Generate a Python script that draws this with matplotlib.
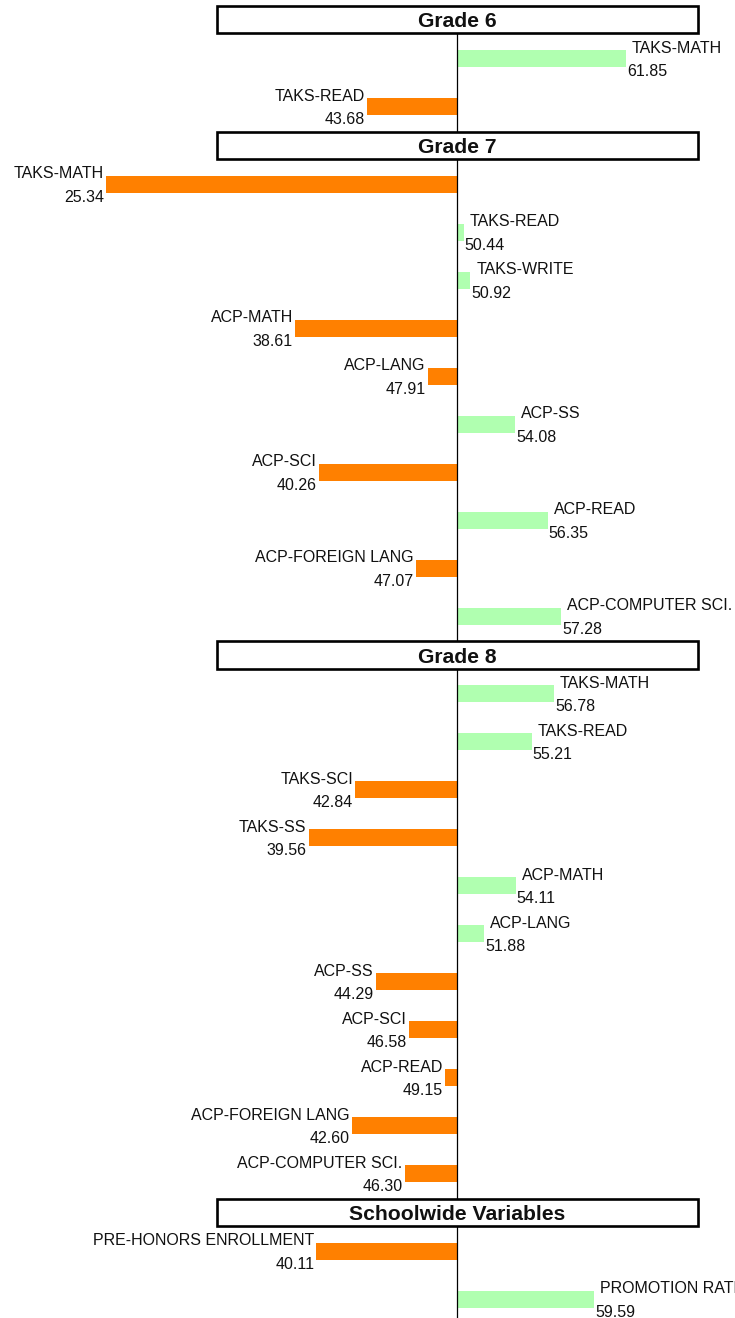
import matplotlib
matplotlib.use("Agg")
import matplotlib.pyplot as plt
from matplotlib.patches import Rectangle
from matplotlib.transforms import offset_copy

plt.rcParams['font.family'] = ['Liberation Sans', 'DejaVu Sans']

# ---- data ----
group_titles = ["Grade 6", "Grade 7", "Grade 8", "Schoolwide Variables"]
grade6_labels = ["TAKS-MATH", "TAKS-READ"]
grade6_values = [61.85, 43.68]
grade7_labels = ["TAKS-MATH", "TAKS-READ", "TAKS-WRITE", "ACP-MATH", "ACP-LANG",
                 "ACP-SS", "ACP-SCI", "ACP-READ", "ACP-FOREIGN LANG", "ACP-COMPUTER SCI."]
grade7_values = [25.34, 50.44, 50.92, 38.61, 47.91, 54.08, 40.26, 56.35, 47.07, 57.28]
grade8_labels = ["TAKS-MATH", "TAKS-READ", "TAKS-SCI", "TAKS-SS", "ACP-MATH", "ACP-LANG",
                 "ACP-SS", "ACP-SCI", "ACP-READ", "ACP-FOREIGN LANG", "ACP-COMPUTER SCI."]
grade8_values = [56.78, 55.21, 42.84, 39.56, 54.11, 51.88, 44.29, 46.58, 49.15, 42.60, 46.30]
school_labels = ["PRE-HONORS ENROLLMENT", "PROMOTION RATE"]
school_values = [40.11, 59.59]
baseline_value = 50.0

groups = [
    (group_titles[0], grade6_labels, grade6_values),
    (group_titles[1], grade7_labels, grade7_values),
    (group_titles[2], grade8_labels, grade8_values),
    (group_titles[3], school_labels, school_values),
]

# ---- style / layout ----
W, H, DPI = 735, 1318, 100
ORANGE = "#FF8000"
GREEN = "#B0FFB0"
PX_PER_UNIT = 14.246
CENTER_PX = 457.3
ROW_STEP = 48.0
HEAD_GAP = 38.8
FIRST_HEAD = 19.8
BAR_H = 16.7
BOX_HALF_W = 240.2   # px
BOX_HALF_H = 13.6    # px
LABEL_FS = 11.5
HEAD_FS = 15.2

fig = plt.figure(figsize=(W / DPI, H / DPI), dpi=DPI)
ax = fig.add_axes([0, 0, 1, 1])
ax.set_xlim(baseline_value - CENTER_PX / PX_PER_UNIT,
            baseline_value + (W - CENTER_PX) / PX_PER_UNIT)
ax.set_ylim(H, 0)
ax.axis("off")

def tr(dx):
    return offset_copy(ax.transData, fig=fig, x=dx, y=0, units='dots')

y = FIRST_HEAD
head_ys = []
for gi, (title, labels, values) in enumerate(groups):
    head_ys.append(y)
    y += HEAD_GAP
    for i, (lab, v) in enumerate(zip(labels, values)):
        color = GREEN if v >= baseline_value else ORANGE
        ax.barh(y, v - baseline_value, left=baseline_value, height=BAR_H,
                color=color, linewidth=0, zorder=2)
        if v >= baseline_value:
            ax.text(v, y - 6.0, lab, transform=tr(6), ha='left', va='baseline',
                    fontsize=LABEL_FS, color='#111111', zorder=4)
            ax.text(v, y + 17.5, f"{v:.2f}", transform=tr(1), ha='left', va='baseline',
                    fontsize=LABEL_FS, color='#111111', zorder=4)
        else:
            ax.text(v, y - 6.0, lab, transform=tr(-2), ha='right', va='baseline',
                    fontsize=LABEL_FS, color='#111111', zorder=4)
            ax.text(v, y + 17.5, f"{v:.2f}", transform=tr(-2), ha='right', va='baseline',
                    fontsize=LABEL_FS, color='#111111', zorder=4)
        if i < len(labels) - 1:
            y += ROW_STEP
    y += HEAD_GAP

# center line
ax.plot([baseline_value, baseline_value], [head_ys[0] + BOX_HALF_H, H],
        color='black', linewidth=0.9, zorder=3, solid_capstyle='butt')

# header boxes
half_w_units = BOX_HALF_W / PX_PER_UNIT
for title, hy in zip(group_titles, head_ys):
    rect = Rectangle((baseline_value - half_w_units, hy - BOX_HALF_H),
                     2 * half_w_units, 2 * BOX_HALF_H,
                     facecolor='white', edgecolor='black', linewidth=1.9, zorder=5)
    ax.add_patch(rect)
    ax.text(baseline_value, hy + 7.6, title, ha='center', va='baseline',
            fontsize=HEAD_FS, fontweight='bold', color='#111111', zorder=6)

fig.savefig("out.png", dpi=DPI)
